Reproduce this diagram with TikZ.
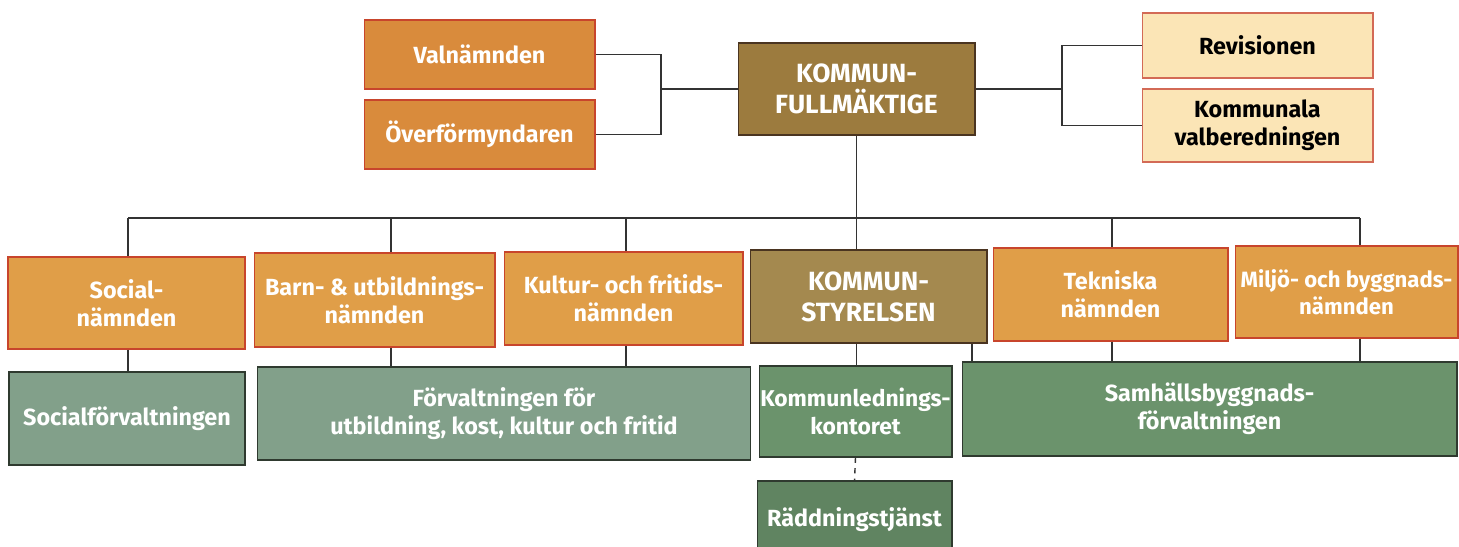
\documentclass[tikz,border=0pt]{standalone}
\usepackage{fontspec}
\setmainfont{Fira Sans}
\usepackage{xcolor}

\definecolor{orgtop}{HTML}{D98B3C}
\definecolor{orgrow}{HTML}{E09E48}
\definecolor{brownkf}{HTML}{9C7B3E}
\definecolor{brownks}{HTML}{A4894F}
\definecolor{paleorg}{HTML}{FBE5B6}
\definecolor{grnsoft}{HTML}{82A08A}
\definecolor{grndeep}{HTML}{6B936C}
\definecolor{edgered}{HTML}{C8452C}
\definecolor{edgedark}{HTML}{4A3420}
\definecolor{edgegrn}{HTML}{2F3A2F}

\tikzset{
    box/.style={rectangle, draw, line width=0.6pt, align=center, inner sep=0pt,
        font=\bfseries\fontsize{13.3}{15.8}\selectfont},
    light/.style={text=white},
    topbox/.style={box, light, fill=orgtop, draw=edgered},
    rowbox/.style={box, light, fill=orgrow, draw=edgered},
    headbox/.style={box, light, draw=edgedark, font=\bfseries\fontsize{15}{17.5}\selectfont},
    palebox/.style={box, fill=paleorg, draw=edgered!80, text=black},
    greenbox/.style={box, light, draw=edgegrn},
    link/.style={draw=black!80, line width=0.8pt}
}

\begin{document}
\begin{tikzpicture}[x=0.02cm, y=-0.02cm]
    \useasboundingbox (0, 0) rectangle (1459, 547);

    \node[topbox, minimum width=4.62cm, minimum height=1.38cm] (valn) at (479.5, 54.5) {Valnämnden};
    \node[topbox, minimum width=4.62cm, minimum height=1.38cm] (overf) at (479.5, 134.5) {Överförmyndaren};
    \node[headbox, fill=brownkf, minimum width=4.74cm, minimum height=1.84cm] (kf) at (856.5, 89) {KOMMUN-\\FULLMÄKTIGE};
    \node[palebox, minimum width=4.62cm, minimum height=1.30cm] (revis) at (1257.5, 45.5) {Revisionen};
    \node[palebox, minimum width=4.62cm, minimum height=1.46cm] (valber) at (1257.5, 125.5) {Kommunala\\valberedningen};

    \node[rowbox, minimum width=4.74cm, minimum height=1.84cm] (socn) at (126.5, 303) {Social-\\nämnden};
    \node[rowbox, minimum width=4.82cm, minimum height=1.88cm] (barn) at (374.5, 300) {Barn- \& utbildnings-\\nämnden};
    \node[rowbox, minimum width=4.78cm, minimum height=1.86cm] (kultur) at (623.5, 298.5) {Kultur- och fritids-\\nämnden};
    \node[headbox, fill=brownks, minimum width=4.74cm, minimum height=1.86cm] (ks) at (868.5, 296.5) {KOMMUN-\\STYRELSEN};
    \node[rowbox, minimum width=4.70cm, minimum height=1.86cm] (tekn) at (1110.5, 294.5) {Tekniska\\nämnden};
    \node[rowbox, minimum width=4.46cm, minimum height=1.84cm, font=\bfseries\fontsize{12.6}{15.5}\selectfont] (miljo) at (1346.5, 292) {Miljö- och byggnads-\\nämnden};

    \node[greenbox, fill=grnsoft, minimum width=4.72cm, minimum height=1.86cm] (socf) at (127, 418.5) {Socialförvaltningen};
    \node[greenbox, fill=grnsoft, minimum width=9.88cm, minimum height=1.86cm] (forv) at (504, 413.5) {Förvaltningen för\\utbildning, kost, kultur och fritid};
    \node[greenbox, fill=grndeep, minimum width=3.86cm, minimum height=1.82cm, font=\bfseries\fontsize{13}{15.8}\selectfont] (kled) at (855.5, 411.5) {Kommunlednings-\\kontoret};
    \node[greenbox, fill=grndeep, minimum width=9.90cm, minimum height=1.88cm] (samh) at (1209.5, 409) {Samhällsbyggnads-\\förvaltningen};
    \node[greenbox, fill=grndeep!90!black, minimum width=3.90cm, minimum height=1.56cm] (radd) at (854.5, 520) {Räddningstjänst};

    \coordinate (jl) at (661, 89);
    \coordinate (jr) at (1062, 89);
    \draw[link] (valn.east) -| (jl) |- (overf.east);
    \draw[link] (jl) -- (kf.west);
    \draw[link] (revis.west) -| (jr) |- (valber.west);
    \draw[link] (kf.east) -- (jr);

    \coordinate (d1) at (128, 218);
    \coordinate (d2) at (391, 218);
    \coordinate (d3) at (626, 218);
    \coordinate (d4) at (972, 218);
    \coordinate (d5) at (1112, 218);
    \coordinate (d6) at (1360, 218);
    \draw[link] (d1) -- (d6);
    \draw[link] (kf.south) -- (kf.south |- ks.north);
    \draw[link] (d1) -- (d1 |- socn.north);
    \draw[link] (d2) -- (d2 |- barn.north);
    \draw[link] (d3) -- (d3 |- kultur.north);
    \draw[link] (d5) -- (d5 |- tekn.north);
    \draw[link] (d6) -- (d6 |- miljo.north);

    \draw[link] (d1 |- socn.south) -- (d1 |- socf.north);
    \draw[link] (d2 |- barn.south) -- (d2 |- forv.north);
    \draw[link] (d3 |- kultur.south) -- (d3 |- forv.north);
    \draw[link] (kf.south |- ks.south) -- (kf.south |- kled.north);
    \draw[link] (d4 |- ks.south) -- (d4 |- samh.north);
    \draw[link] (d5 |- tekn.south) -- (d5 |- samh.north);
    \draw[link] (d6 |- miljo.south) -- (d6 |- samh.north);
    \draw[link, dashed] (kled.south) -- (radd.north);
\end{tikzpicture}
\end{document}
